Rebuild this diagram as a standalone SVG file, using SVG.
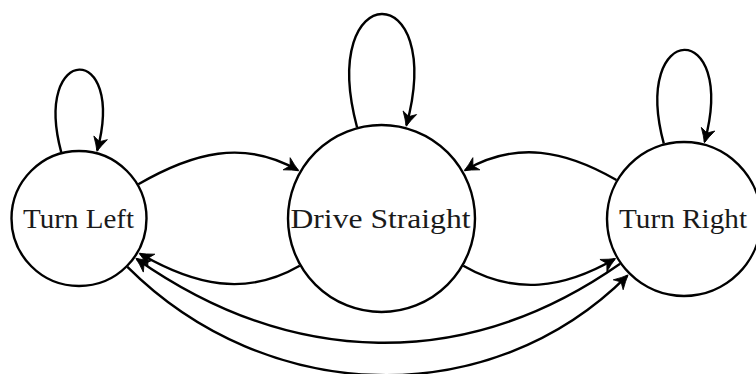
<svg xmlns="http://www.w3.org/2000/svg" width="756" height="374" viewBox="0 0 756 374">
  <style>
    .state { fill: #ffffff; stroke: #000000; stroke-width: 2.4; }
    .label { font-family: "Liberation Serif", "Times New Roman", serif; font-size: 27px; fill: #1a1a1a; text-anchor: middle; }
    .edge { fill: none; stroke: #000000; stroke-width: 2.4; marker-end: url(#arrow); }
  </style>
  <defs>
    <marker id="arrow" markerUnits="userSpaceOnUse" viewBox="-16 -10 20 20" refX="0" refY="0" markerWidth="20" markerHeight="20" orient="auto">
      <path d="M 1 0 Q -5.5 -2.6 -13 -7 L -9 0 L -13 7 Q -5.5 2.6 1 0 Z" fill="#000000" stroke="#000000" stroke-width="0.8" stroke-linejoin="round"/>
    </marker>
  </defs>

  <g id="node-turn-left">
    <circle class="state" cx="79" cy="218.5" r="67.5"/>
    <text class="label" x="78.5" y="228" textLength="111" lengthAdjust="spacingAndGlyphs">Turn Left</text>
  </g>
  <g id="node-drive-straight">
    <circle class="state" cx="381.5" cy="218.5" r="93.5"/>
    <text class="label" x="380.5" y="228" textLength="180" lengthAdjust="spacingAndGlyphs">Drive Straight</text>
  </g>
  <g id="node-turn-right">
    <circle class="state" cx="684" cy="219" r="77"/>
    <text class="label" x="683" y="228" textLength="128" lengthAdjust="spacingAndGlyphs">Turn Right</text>
  </g>

  <g id="connectors">
    <!-- self loops -->
    <path class="edge" d="M 61.27 152.33 C 32.07 43.38 126.45 41.45 97.25 150.4"/>
    <path class="edge" d="M 357.04 127.22 C 316.94 -22.5 446.58 -24.4 406.48 125.29"/>
    <path class="edge" d="M 663.81 143.66 C 630.66 19.96 737.85 18.03 704.7 141.73"/>
    <!-- Turn Left -> Drive Straight -->
    <path class="edge" d="M 138.3 184.25 C 192.6 152.9 243.6 138.9 297.9 170.25"/>
    <!-- Turn Right -> Drive Straight -->
    <path class="edge" d="M 616.45 180 C 565.05 150.3 516.5 140.55 465.1 170.25"/>
    <!-- Drive Straight -> Turn Left -->
    <path class="edge" d="M 299.7 265.75 C 245.4 297.1 194.35 285.1 140.05 253.75"/>
    <!-- Drive Straight -> Turn Right -->
    <path class="edge" d="M 463.3 265.75 C 514.7 295.4 563.3 288.65 614.7 259"/>
    <!-- Turn Right -> Turn Left -->
    <path class="edge" d="M 620.1 263.7 C 465.1 372.3 291.7 367.5 136.7 258.9"/>
    <!-- Turn Left -> Turn Right -->
    <path class="edge" d="M 127.4 266.9 C 265.8 405.3 489 414 627.4 275.6"/>
  </g>
</svg>
